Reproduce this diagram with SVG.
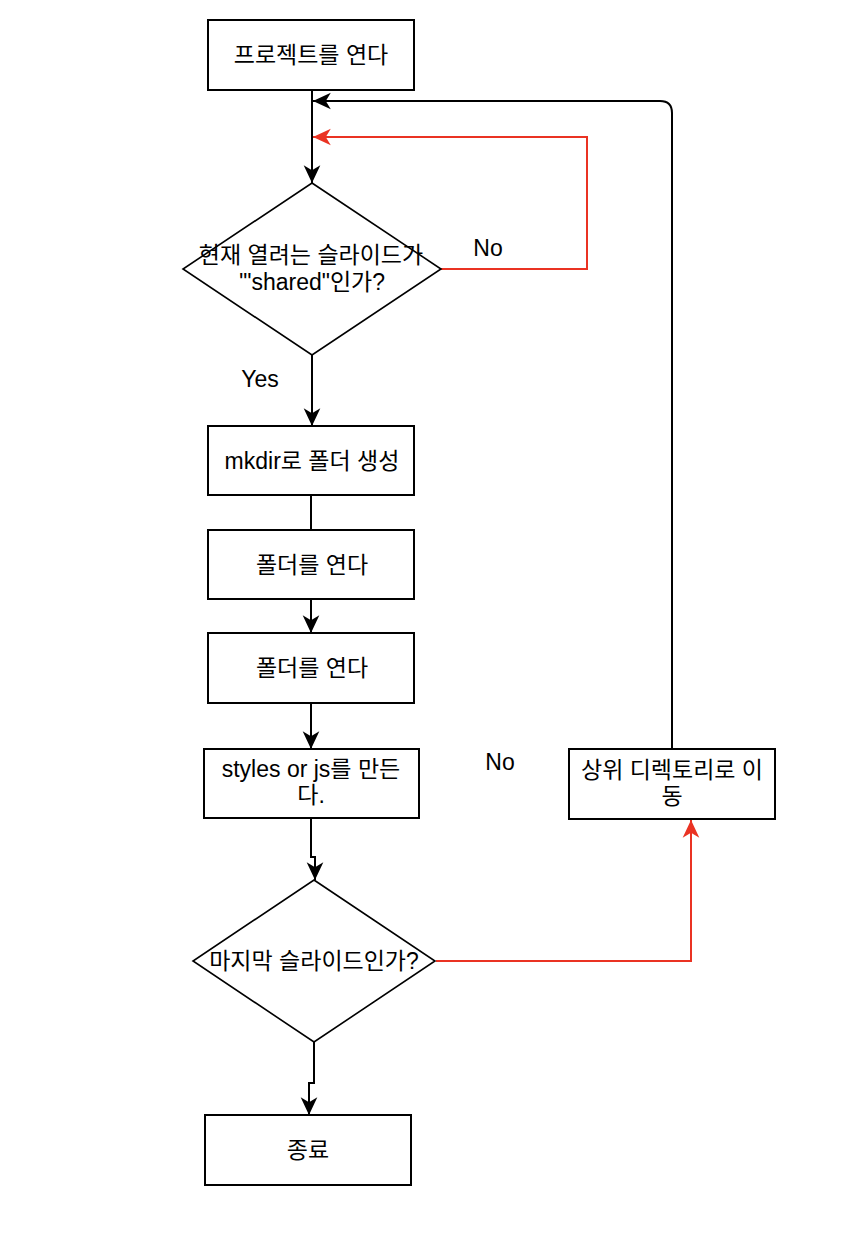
<svg xmlns="http://www.w3.org/2000/svg" width="856" height="1242" viewBox="0 0 856 1242">
<style>
.box{fill:#fff;stroke:#000;stroke-width:2}
.dia{fill:#fff;stroke:#000;stroke-width:1.6}
.t{font-family:"Liberation Sans","Noto Sans CJK KR",sans-serif;font-size:23px;fill:#000;text-anchor:middle}
.ln{fill:none;stroke:#000;stroke-width:2}
.red{fill:none;stroke:#EA3323;stroke-width:2}
</style>
<defs>
<marker id="ab" markerUnits="userSpaceOnUse" markerWidth="20" markerHeight="20" viewBox="-17 -9 18 18" refX="0" refY="0" orient="auto"><path d="M0,0 L-16,-7.5 L-11.5,0 L-16,7.5 Z" fill="#000"/></marker>
<marker id="ar" markerUnits="userSpaceOnUse" markerWidth="20" markerHeight="20" viewBox="-17 -9 18 18" refX="0" refY="0" orient="auto"><path d="M0,0 L-16,-7.5 L-11.5,0 L-16,7.5 Z" fill="#EA3323"/></marker>
</defs>
<rect width="856" height="1242" fill="#fff"/>
<g id="connectors">
<path class="ln" d="M312,90 L312,183" marker-end="url(#ab)"/>
<path class="ln" d="M672,749 L672,113 Q672,101 660,101 L313,101" marker-end="url(#ab)"/>
<path class="red" d="M441,269 L587,269 L587,137 L313,137" marker-end="url(#ar)"/>
<path class="ln" d="M312,355 L312,426" marker-end="url(#ab)"/>
<path class="ln" d="M311,495 L311,530"/>
<path class="ln" d="M311,599 L311,633" marker-end="url(#ab)"/>
<path class="ln" d="M311,703 L311,749" marker-end="url(#ab)"/>
<path class="ln" d="M311,818 L311,857 L315,857 L315,880" marker-end="url(#ab)"/>
<path class="ln" d="M314,1042 L314,1083 L309,1083 L309,1115" marker-end="url(#ab)"/>
<path class="red" d="M436,961 L691,961 L691,820" marker-end="url(#ar)"/>
<text class="t" x="488" y="256">No</text>
<text class="t" x="260" y="387">Yes</text>
<text class="t" x="500" y="770">No</text>
</g>
<g id="n1"><rect class="box" x="208" y="20" width="206" height="70"/><text class="t" x="311" y="63">프로젝트를 연다</text></g>
<g id="n2"><path class="dia" d="M312,183 L441,269 L312,355 L183,269 Z"/><text class="t" x="311" y="263">현재 열려는 슬라이드가</text><text class="t" x="312" y="290">'"shared"인가?</text></g>
<g id="n3"><rect class="box" x="208" y="426" width="206" height="69"/><text class="t" x="312" y="469">mkdir로 폴더 생성</text></g>
<g id="n4"><rect class="box" x="208" y="530" width="206" height="69"/><text class="t" x="312" y="573">폴더를 연다</text></g>
<g id="n5"><rect class="box" x="208" y="633" width="206" height="70"/><text class="t" x="312" y="676">폴더를 연다</text></g>
<g id="n6"><rect class="box" x="204" y="749" width="215" height="69"/><text class="t" x="311" y="777">styles or js를 만든</text><text class="t" x="311" y="803">다.</text></g>
<g id="n7"><path class="dia" d="M314,880 L435,961 L314,1042 L193,961 Z"/><text class="t" x="314" y="969">마지막 슬라이드인가?</text></g>
<g id="n8"><rect class="box" x="205" y="1115" width="206" height="70"/><text class="t" x="308" y="1158">종료</text></g>
<g id="n9"><rect class="box" x="569" y="749" width="206" height="70"/><text class="t" x="672" y="778">상위 디렉토리로 이</text><text class="t" x="672" y="804">동</text></g>
</svg>
